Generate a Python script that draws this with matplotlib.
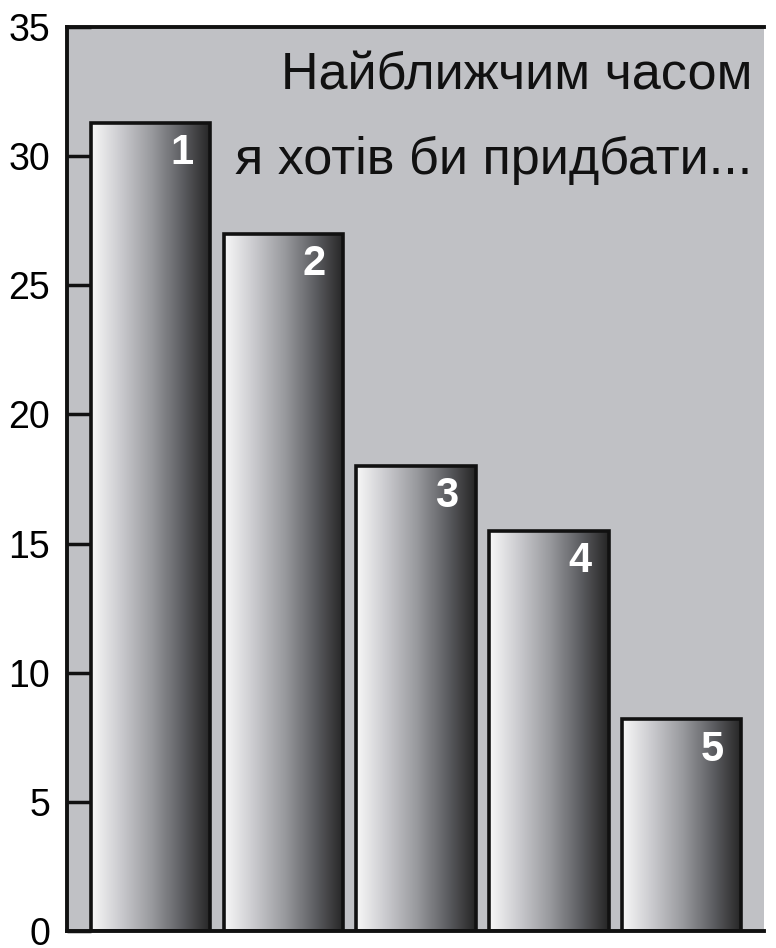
import numpy as np
import matplotlib
matplotlib.use("Agg")
import matplotlib.pyplot as plt
from matplotlib.colors import LinearSegmentedColormap
from matplotlib.patches import Rectangle

categories = ["1", "2", "3", "4", "5"]
values = [31.3, 27.0, 18.0, 15.5, 8.2]
yticks = [0, 5, 10, 15, 20, 25, 30, 35]
title_lines = ["Найближчим часом", "я хотів би придбати..."]

fam = ['Liberation Sans', 'DejaVu Sans']
plt.rcParams['font.family'] = fam

fig = plt.figure(figsize=(7.76, 9.48), dpi=100)
ax = fig.add_axes([67/776, 17/948, (764-67)/776, (931-27)/948])
ax.set_facecolor('#c0c1c5')

cmap = LinearSegmentedColormap.from_list('g', ['#f8f8f8', '#cacace', '#9a9b9f', '#606165', '#252525'])
grad = np.linspace(0, 1, 256).reshape(1, -1)
width = 0.9
x = np.arange(len(values))
for xi, v, lab in zip(x, values, categories):
    ax.imshow(grad, cmap=cmap, extent=(xi - width/2, xi + width/2, 0, v),
              aspect='auto', zorder=2, interpolation='bilinear')
    ax.add_patch(Rectangle((xi - width/2, 0), width, v, fill=False,
                           edgecolor='#111111', linewidth=2.6, zorder=3))
    ax.text(xi + width/2 - 0.13, v - 0.4, lab, ha='right', va='top', color='white',
            fontsize=30, fontweight='bold', zorder=4)

ax.set_xlim(-0.63, 4.62)
ax.set_ylim(0, 35)
ax.set_xticks([])
ax.set_yticks(yticks)
ax.tick_params(axis='y', direction='in', length=17, width=2.5, labelsize=27, pad=12, color='#111111')
for s in ['left', 'bottom', 'top']:
    ax.spines[s].set_linewidth(2.8)
    ax.spines[s].set_color('#111111')
ax.spines['right'].set_visible(False)

ax.text(0.983, 0.946, title_lines[0], transform=ax.transAxes, ha='right', va='center',
        fontsize=37.5, color='#111111', zorder=5)
ax.text(0.983, 0.852, title_lines[1], transform=ax.transAxes, ha='right', va='center',
        fontsize=37.5, color='#111111', zorder=5)

fig.savefig('out.png', dpi=100)
